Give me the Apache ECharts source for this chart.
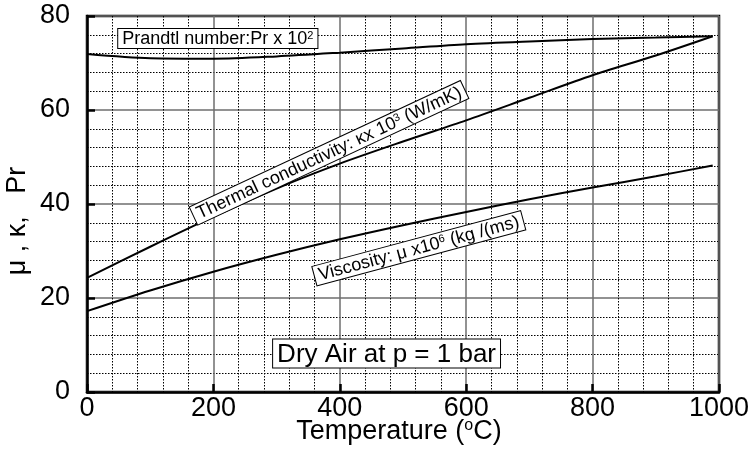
<!DOCTYPE html>
<html>
<head>
<meta charset="utf-8">
<script src="https://cdn.jsdelivr.net/npm/echarts@6/dist/echarts.min.js"></script>
<style>
  html, body { margin: 0; padding: 0; background: #fff; }
  #chart { width: 753px; height: 457px; }
</style>
</head>
<body>
<div id="chart"></div>
<script>
// Properties of dry air at 1 bar versus temperature
var temperature = [0, 100, 200, 300, 400, 500, 600, 700, 800, 900, 990];
// thermal conductivity x 10^3, W/(m K)
var conductivity = [24.3, 30.9, 37.3, 43.3, 48.6, 53.3, 57.8, 62.6, 67.4, 71.6, 75.7];
// dynamic viscosity x 10^6, kg/(m s)
var viscosity = [17.2, 21.6, 25.6, 29.2, 32.5, 35.5, 38.3, 41.0, 43.5, 45.9, 48.2];
// Prandtl number x 10^2
var prandtl = [71.9, 71.0, 70.9, 71.4, 72.2, 73.1, 74.0, 74.6, 75.1, 75.4, 75.7];

var xTicks = [0, 200, 400, 600, 800, 1000];
var yTicks = [0, 20, 40, 60, 80];

var FONT = '"Liberation Sans", Arial, Helvetica, sans-serif';

function pairs(ys) {
  return temperature.map(function (t, i) { return [t, ys[i]]; });
}

function curve(name, ys) {
  return {
    name: name,
    type: 'line',
    data: pairs(ys),
    smooth: 0.3,
    symbol: 'none',
    lineStyle: { color: '#000', width: 2 },
    z: 5
  };
}

var chart = echarts.init(document.getElementById('chart'), null, { renderer: 'canvas' });

var axisCommon = {
  type: 'value',
  nameMoveOverlap: false,
  axisLine: { show: true, lineStyle: { color: '#000', width: 2.5 } },
  axisTick: { show: true, inside: true, length: 8, lineStyle: { color: '#000', width: 2.5 } },
  splitLine: { show: true, lineStyle: { color: '#6e6e6e', width: 1.5 } },
  minorTick: { show: false, splitNumber: 5 },
  minorSplitLine: { show: true, lineStyle: { color: '#000', width: 1, type: [1.5, 1.5] } },
  axisLabel: {
    color: '#000', fontSize: 27, fontFamily: FONT,
    formatter: function (v) { return String(v); }
  }
};

chart.setOption({
  animation: false,
  backgroundColor: '#fff',
  textStyle: { fontFamily: FONT },
  grid: {
    left: 87, right: 34, top: 16, bottom: 65,
    containLabel: false,
    outerBoundsMode: 'none',
    show: true, borderColor: '#000', borderWidth: 2.5, backgroundColor: 'transparent'
  },
  xAxis: Object.assign({}, axisCommon, {
    min: xTicks[0], max: xTicks[xTicks.length - 1], interval: xTicks[1] - xTicks[0],
    axisLabel: Object.assign({}, axisCommon.axisLabel, { margin: 3 }),
    name: 'Temperature ({sup|o}C)',
    nameLocation: 'middle',
    nameGap: 26,
    nameTextStyle: {
      color: '#000', fontSize: 27, fontFamily: FONT, padding: [0, 8, 0, 0],
      rich: { sup: { fontSize: 16, verticalAlign: 'top', color: '#000', fontFamily: FONT } }
    }
  }),
  yAxis: Object.assign({}, axisCommon, {
    min: yTicks[0], max: yTicks[yTicks.length - 1], interval: yTicks[1] - yTicks[0],
    axisLabel: Object.assign({}, axisCommon.axisLabel, { margin: 17 }),
    name: 'μ , κ,   Pr',
    nameLocation: 'middle',
    nameRotate: 90,
    nameGap: 56,
    nameTextStyle: { color: '#000', fontSize: 27, fontFamily: FONT, padding: [0, 34, 0, 0] }
  }),
  series: [
    curve('Prandtl number', prandtl),
    curve('Thermal conductivity', conductivity),
    curve('Viscosity', viscosity)
  ]
});

// Boxed annotations, anchored in data coordinates
var notes = [
  { at: [207, 75.2], angle: 0, size: 18,
    text: 'Prandtl number:Pr x 10{sup|2}', pad: [1, 4, 0, 4] },
  { at: [383, 50.9], angle: 25, size: 18,
    text: 'Thermal conductivity: κx 10{sup|3} (W/mK)', pad: [1, 4, 0, 4] },
  { at: [525, 30.6], angle: 15, size: 18,
    text: 'Viscosity: μ x10{sup|6} (kg /(ms)', pad: [1, 4, 0, 4] },
  { at: [474, 8.2], angle: 0, size: 26,
    text: 'Dry Air at p = 1 bar', pad: [2, 4, 0, 4] }
];

var graphics = notes.map(function (n) {
  var p = chart.convertToPixel({ gridIndex: 0 }, n.at);
  return {
    type: 'text',
    x: p[0],
    y: p[1],
    rotation: n.angle * Math.PI / 180,
    z: 50,
    style: {
      text: n.text,
      x: 0, y: 0,
      align: 'center',
      verticalAlign: 'middle',
      fontSize: n.size,
      fontFamily: FONT,
      fill: '#000',
      backgroundColor: '#fff',
      borderColor: '#000',
      borderWidth: 1,
      padding: n.pad,
      rich: {
        sup: { fontSize: Math.round(n.size * 0.6), verticalAlign: 'top', fill: '#000', fontFamily: FONT }
      }
    }
  };
});

chart.setOption({ graphic: graphics });
</script>
</body>
</html>
